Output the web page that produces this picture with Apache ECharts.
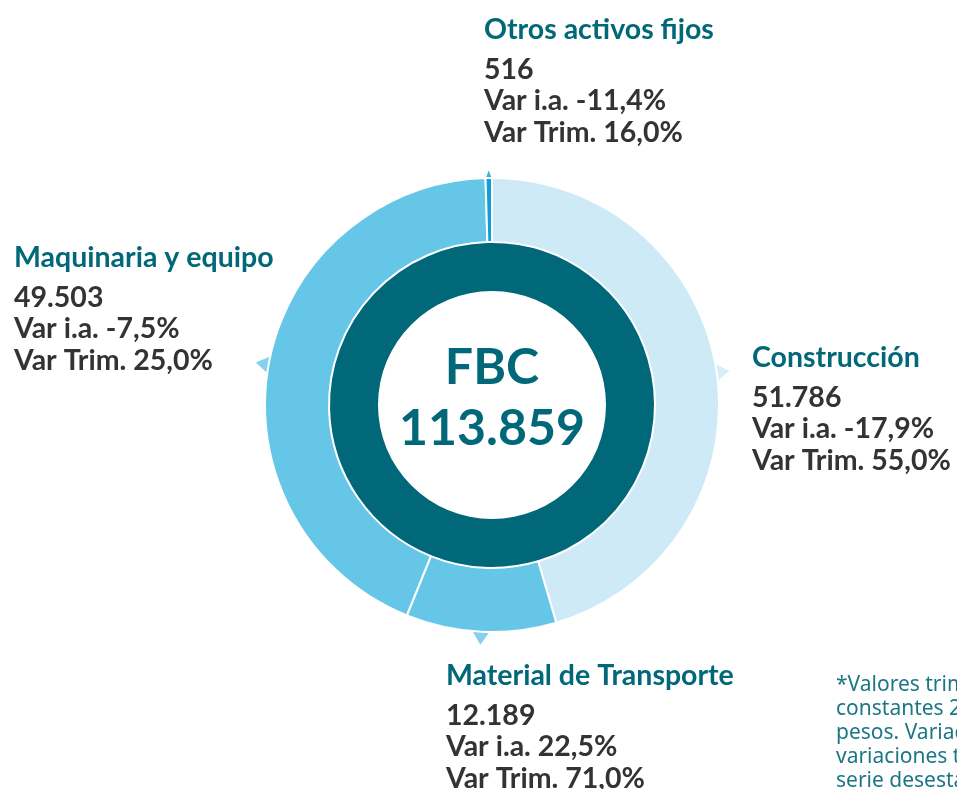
<!DOCTYPE html>
<html>
<head>
<meta charset="utf-8">
<script src="https://cdn.jsdelivr.net/npm/echarts@6/dist/echarts.min.js"></script>
<style>
  html, body { margin: 0; padding: 0; background: #fff; }
  #chart { width: 957px; height: 789px; }
</style>
</head>
<body>
<div id="chart"></div>
<script>
// componentes de la FBC (millones de pesos de 2004)
const categorias = ['Construcción', 'Material de Transporte', 'Maquinaria y equipo', 'Otros activos fijos']
const valores = [51786, 12189, 49503, 516]
const varIA = [-17.9, 22.5, -7.5, -11.4]
const varTrim = [55.0, 71.0, 25.0, 16.0]
const colores = ['#cdeaf6', '#66c6e8', '#66c6e8', '#0e9fd8']
const totalFBC = 113859

// donde va cada bloque de texto (esquina sup. izq.)
const labelPos = [[752, 333], [446, 651], [14, 233], [484, 5]]

const fmtMiles = n => String(n).replace(/\B(?=(\d{3})+(?!\d))/g, '.')
const fmtPct = n => n.toFixed(1).replace('.', ',') + '%'

const total = valores.reduce((a, b) => a + b, 0)
const cx = 492
const cy = 405

// triangulitos en el centro de cada arco
let acum = 0
const flechas = valores.map((v, i) => {
  const mid = acum + v / 2
  acum += v
  const ang = mid / total * 360
  const small = i === 3
  return {
    value: [small ? 230 : 233, mid],
    symbolSize: small ? [7, 9] : [18, 14],
    symbolRotate: -ang,
    itemStyle: { color: colores[i] }
  }
})

const chart = echarts.init(document.getElementById('chart'))
chart.setOption({
  animation: false,
  polar: { center: [cx, cy], radius: 240 },
  radiusAxis: { min: 0, max: 240, show: false },
  angleAxis: { min: 0, max: total, startAngle: 90, clockwise: true, show: false },
  graphic: [{
    type: 'text',
    left: 836,
    top: 673,
    style: {
      text: '*Valores trimestrales a precios\nconstantes 2004 en millones de\npesos. Variaciones i.a. y\nvariaciones trimestrales de la\nserie desestacionalizada.',
      font: '21px "Noto Sans"',
      lineHeight: 24,
      fill: '#1d7686'
    }
  }],
  series: [
    {
      type: 'pie',
      center: [cx, cy],
      radius: [114, 163],
      silent: true,
      data: [{ value: totalFBC, name: 'FBC' }],
      itemStyle: { color: '#006878' },
      label: {
        show: true,
        position: 'center',
        offset: [0, -7],
        formatter: p => '{a|' + p.name + '}\n{a|' + fmtMiles(p.value) + '}',
        rich: {
          a: { fontFamily: 'Lato', fontWeight: 'bold', fontSize: 50, lineHeight: 61, color: '#006878' }
        }
      },
      labelLine: { show: false }
    },
    {
      type: 'pie',
      center: [cx, cy],
      radius: [163, 227],
      startAngle: 90,
      clockwise: true,
      silent: true,
      data: categorias.map((c, i) => ({ name: c, value: valores[i], itemStyle: { color: colores[i] } })),
      itemStyle: { borderColor: '#fff', borderWidth: 2 },
      label: {
        show: true,
        overflow: 'none',
        formatter: p => {
          const i = p.dataIndex
          return '{t|' + p.name + '}\n{v|' + fmtMiles(valores[i]) + '}\n{v|Var i.a. ' + fmtPct(varIA[i]) + '}\n{v|Var Trim. ' + fmtPct(varTrim[i]) + '}'
        },
        rich: {
          t: { fontFamily: 'Lato', fontWeight: 'bold', fontSize: 28.5, lineHeight: 49, color: '#006878' },
          v: { fontFamily: 'Lato', fontWeight: 'bold', fontSize: 28.5, lineHeight: 31.5, color: '#333333' }
        }
      },
      labelLine: { show: false },
      labelLayout: p => ({
        x: labelPos[p.dataIndex][0],
        y: labelPos[p.dataIndex][1],
        align: 'left',
        verticalAlign: 'top',
        hideOverlap: false
      })
    },
    {
      type: 'scatter',
      coordinateSystem: 'polar',
      symbol: 'triangle',
      silent: true,
      z: 1,
      data: flechas
    }
  ]
})
</script>
</body>
</html>
